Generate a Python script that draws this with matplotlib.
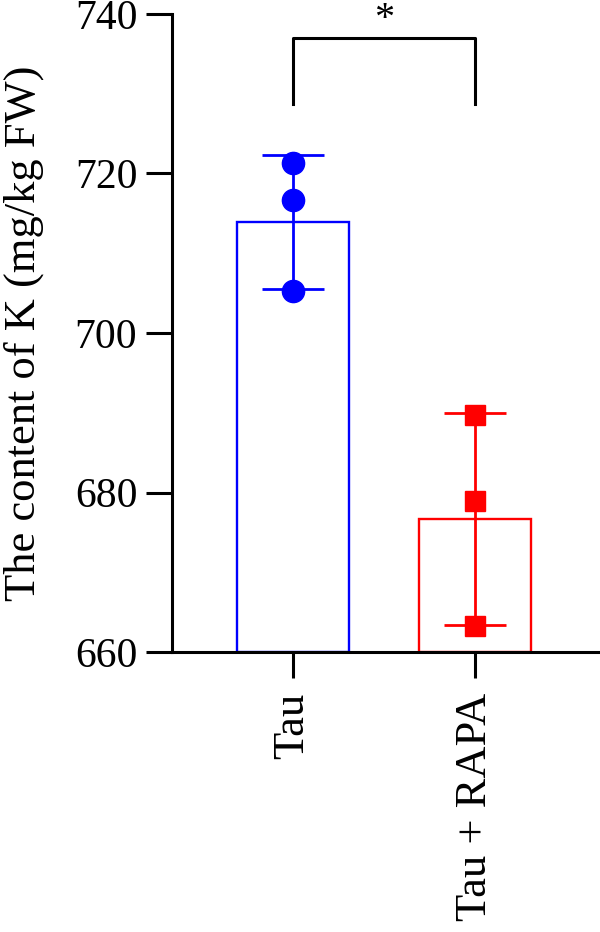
import numpy as np
import matplotlib
matplotlib.use("Agg")
import matplotlib.pyplot as plt

plt.rcParams["font.family"] = ["Liberation Serif", "DejaVu Serif"]

# Data
groups = ["Tau", "Tau + RAPA"]
bar_means = [713.9, 676.7]
bar_sds = [8.4, 13.3]
points_tau = [721.3, 716.7, 705.3]
points_rapa = [689.7, 678.9, 663.3]
colors = ["#0000FF", "#FF0000"]
markers = ["o", "s"]
y_ticks = [660, 680, 700, 720, 740]

fig = plt.figure(figsize=(6, 9.32), dpi=100)
ax = fig.add_axes([0.2867, 0.3004, 0.7133, 0.6846])

x = np.arange(len(groups))
width = 0.615

for i, (pts, c, m) in enumerate(zip([points_tau, points_rapa], colors, markers)):
    ax.bar(x[i], bar_means[i] - 660, width, bottom=660, facecolor="none",
           edgecolor=c, linewidth=1.7, zorder=2)
    ax.errorbar(x[i], bar_means[i], yerr=bar_sds[i], color=c, capsize=22,
                capthick=2.0, elinewidth=2.0, fmt="none", zorder=3)
    ax.plot([x[i]] * len(pts), pts, linestyle="none", marker=m, color=c,
            markersize=16 if m == "o" else 15, zorder=4, clip_on=False)

# Significance bracket
ax.plot([0, 0, 1, 1], [728.7, 737.0, 737.0, 728.7], color="black",
        linewidth=2.2, clip_on=False)
ax.text(0.5, 741.6, "*", ha="center", va="top", fontsize=29, clip_on=False)

ax.set_xlim(-0.662, 1.686)
ax.set_ylim(660, 740)
ax.set_yticks(y_ticks)
ax.set_xticks(x)
ax.set_xticklabels(groups, rotation=90, fontsize=32)
ax.tick_params(axis="y", labelsize=30, length=19, width=2.2, pad=6)
ax.tick_params(axis="x", length=19, width=2.2, pad=10)
ax.set_ylabel("The content of K (mg/kg FW)", fontsize=32)
ax.yaxis.set_label_coords(-0.30, 0.5)

for side in ["top", "right"]:
    ax.spines[side].set_visible(False)
for side in ["left", "bottom"]:
    ax.spines[side].set_linewidth(2.2)

plt.savefig("out.png", dpi=100)
